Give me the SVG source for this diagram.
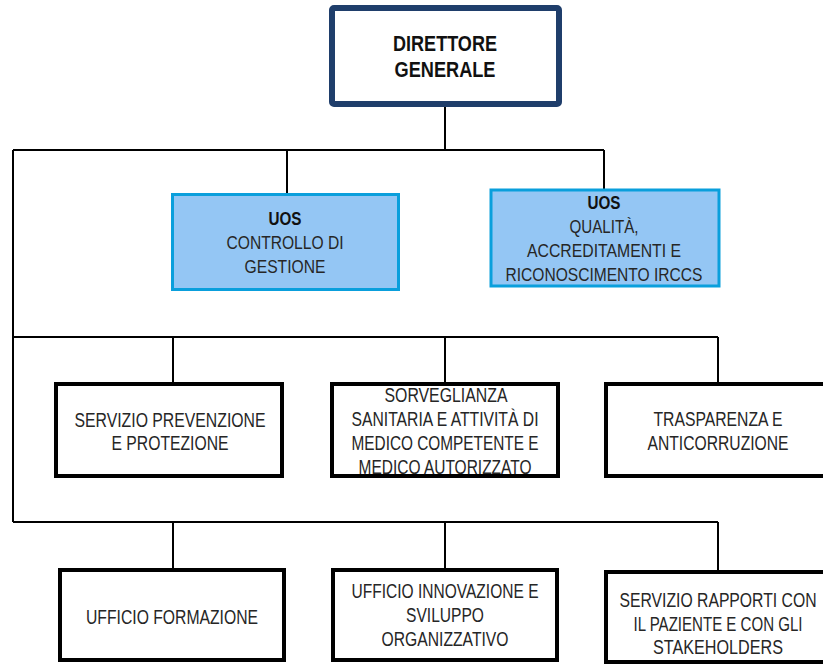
<svg xmlns="http://www.w3.org/2000/svg" width="823" height="664" viewBox="0 0 823 664">
<style>
text{font-family:"Liberation Sans",Arial,sans-serif;fill:#262626;text-anchor:middle}
.t{font-size:20px}
.u{font-size:17.5px}
.b{font-weight:bold;fill:#111}
.dg{font-size:22px;font-weight:bold;fill:#111}
.box{fill:#fff;stroke:#000;stroke-width:4}
.uos{fill:#94C6F4;stroke:#0A9FDC;stroke-width:3}
.dir{fill:#fff;stroke:#1F3E6B;stroke-width:6}
.c{fill:none;stroke:#000;stroke-width:2}
</style>
<rect width="823" height="664" fill="#fff"/>
<g id="connectors">
<path class="c" d="M445 107V150M13 150H604M287 150V193M604 150V189M13 150V522"/>
<path class="c" d="M13 337H718M173 337V382M445 337V382M718 337V382"/>
<path class="c" d="M13 522H718M173 522V568M445 522V568M718 522V570"/>
</g>
<g id="direttore">
<rect class="dir" x="332" y="8" width="227" height="96" rx="2"/>
<text class="dg" x="445" y="51" textLength="104" lengthAdjust="spacingAndGlyphs">DIRETTORE</text>
<text class="dg" x="445" y="77" textLength="101" lengthAdjust="spacingAndGlyphs">GENERALE</text>
</g>
<g id="uos-controllo">
<rect class="uos" x="172.5" y="194.5" width="226" height="95"/>
<text class="u b" x="285" y="225" textLength="33" lengthAdjust="spacingAndGlyphs">UOS</text>
<text class="u" x="285" y="249" textLength="117" lengthAdjust="spacingAndGlyphs">CONTROLLO DI</text>
<text class="u" x="285" y="273" textLength="81" lengthAdjust="spacingAndGlyphs">GESTIONE</text>
</g>
<g id="uos-qualita">
<rect class="uos" x="491" y="190" width="228" height="96"/>
<text class="u b" x="604" y="209" textLength="33" lengthAdjust="spacingAndGlyphs">UOS</text>
<text class="u" x="604" y="233" textLength="69" lengthAdjust="spacingAndGlyphs">QUALITÀ,</text>
<text class="u" x="604" y="257" textLength="154" lengthAdjust="spacingAndGlyphs">ACCREDITAMENTI E</text>
<text class="u" x="604" y="281" textLength="197" lengthAdjust="spacingAndGlyphs">RICONOSCIMENTO IRCCS</text>
</g>
<g id="prevenzione">
<rect class="box" x="56" y="384" width="226" height="92"/>
<text class="t" x="170" y="427" textLength="191" lengthAdjust="spacingAndGlyphs">SERVIZIO PREVENZIONE</text>
<text class="t" x="170" y="450" textLength="117" lengthAdjust="spacingAndGlyphs">E PROTEZIONE</text>
</g>
<g id="sorveglianza">
<rect class="box" x="332" y="384" width="226" height="92"/>
<text class="t" x="446" y="402" textLength="123" lengthAdjust="spacingAndGlyphs">SORVEGLIANZA</text>
<text class="t" x="445" y="426" textLength="187" lengthAdjust="spacingAndGlyphs">SANITARIA E ATTIVITÀ DI</text>
<text class="t" x="445" y="450" textLength="187" lengthAdjust="spacingAndGlyphs">MEDICO COMPETENTE E</text>
<text class="t" x="445" y="474" textLength="173" lengthAdjust="spacingAndGlyphs">MEDICO AUTORIZZATO</text>
</g>
<g id="trasparenza">
<path class="box" d="M823 384H606V476H823"/>
<text class="t" x="718" y="426" textLength="129" lengthAdjust="spacingAndGlyphs">TRASPARENZA E</text>
<text class="t" x="718" y="450" textLength="141" lengthAdjust="spacingAndGlyphs">ANTICORRUZIONE</text>
</g>
<g id="formazione">
<rect class="box" x="60" y="570" width="224" height="90"/>
<text class="t" x="172" y="624" textLength="172" lengthAdjust="spacingAndGlyphs">UFFICIO FORMAZIONE</text>
</g>
<g id="innovazione">
<rect class="box" x="333" y="570" width="224" height="90"/>
<text class="t" x="445" y="598" textLength="187" lengthAdjust="spacingAndGlyphs">UFFICIO INNOVAZIONE E</text>
<text class="t" x="445" y="622" textLength="78" lengthAdjust="spacingAndGlyphs">SVILUPPO</text>
<text class="t" x="445" y="646" textLength="127" lengthAdjust="spacingAndGlyphs">ORGANIZZATIVO</text>
</g>
<g id="rapporti">
<path class="box" d="M823 572H606V662H823"/>
<text class="t" x="718" y="607" textLength="197" lengthAdjust="spacingAndGlyphs">SERVIZIO RAPPORTI CON</text>
<text class="t" x="718" y="631" textLength="169" lengthAdjust="spacingAndGlyphs">IL PAZIENTE E CON GLI</text>
<text class="t" x="718" y="654" textLength="130" lengthAdjust="spacingAndGlyphs">STAKEHOLDERS</text>
</g>
</svg>
